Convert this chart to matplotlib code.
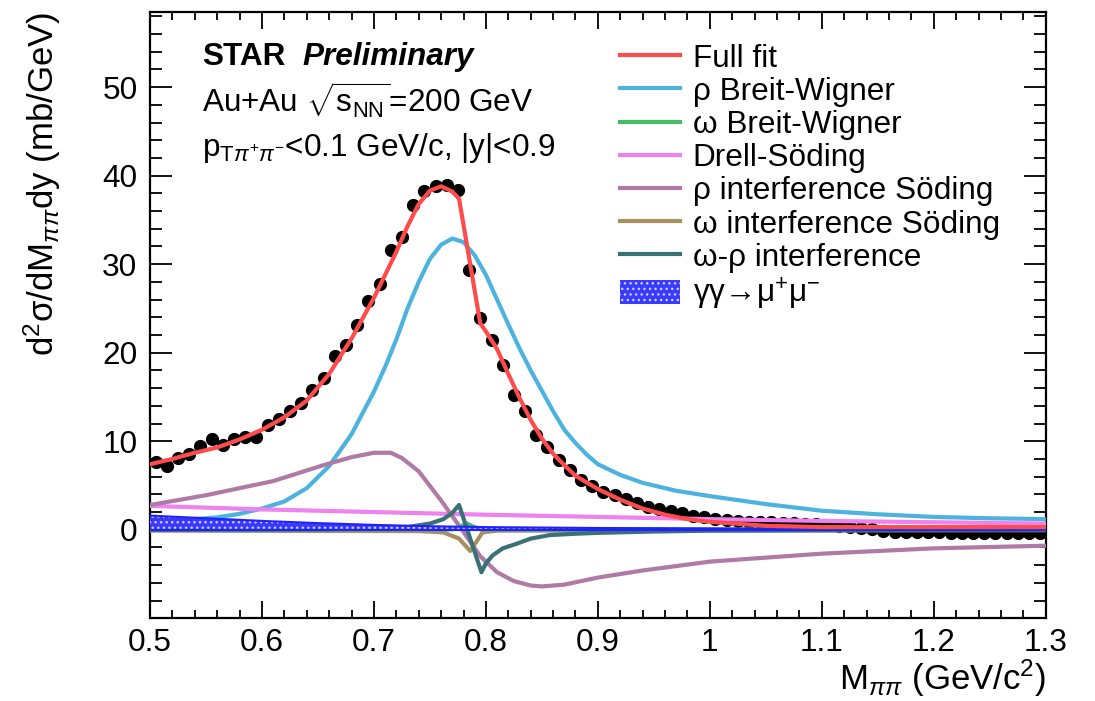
import numpy as np
import matplotlib
matplotlib.use("Agg")
import matplotlib.pyplot as plt
from matplotlib.ticker import MultipleLocator
from matplotlib.lines import Line2D
from matplotlib.patches import Patch

plt.rcParams['font.family'] = ['Liberation Sans', 'DejaVu Sans']
plt.rcParams['mathtext.fontset'] = 'custom'
plt.rcParams['mathtext.rm'] = 'Liberation Sans'
plt.rcParams['mathtext.it'] = 'Liberation Sans:italic'
plt.rcParams['mathtext.bf'] = 'Liberation Sans:bold'
plt.rcParams['hatch.linewidth'] = 1.0

# measured points (bin centres, 10 MeV bins)
m_data = np.round(np.arange(0.505, 1.30, 0.01), 3)
xsec_data = [7.7, 7.2, 8.1, 8.6, 9.5, 10.2, 9.6, 10.2, 10.5, 10.5,
             11.8, 12.5, 13.4, 14.3, 15.8, 17.1, 19.6, 20.9, 23.1, 25.8,
             27.8, 31.6, 33.1, 36.7, 38.3, 38.8, 38.9, 38.4, 29.3, 23.9,
             21.4, 18.6, 15.2, 13.4, 10.7, 9.4, 7.9, 6.8, 5.6, 4.9,
             4.3, 3.9, 3.5, 3.0, 2.6, 2.4, 2.1, 1.9, 1.6, 1.4,
             1.2, 1.1, 1.0, 0.9, 0.85, 0.85, 0.8, 0.8, 0.7, 0.6,
             0.5, 0.4, 0.3, 0.2, 0.1, -0.1, -0.2, -0.25, -0.3, -0.3,
             -0.3, -0.35, -0.35, -0.35, -0.35, -0.35, -0.35, -0.35, -0.35, -0.35]

# full fit
m_full = [0.50, 0.52, 0.54, 0.56, 0.58, 0.60, 0.62, 0.64, 0.66, 0.68, 0.70, 0.72, 0.73,
          0.74, 0.75, 0.76, 0.77, 0.776, 0.795, 0.80, 0.81, 0.82, 0.83, 0.84, 0.85, 0.86,
          0.87, 0.88, 0.90, 0.92, 0.94, 0.96, 0.98, 1.00, 1.05, 1.10, 1.15, 1.20, 1.30]
full_fit = [7.4, 8.0, 8.7, 9.3, 10.2, 11.3, 12.7, 14.6, 17.6, 21.6, 26.2, 31.4, 34.3,
            36.8, 38.3, 38.8, 38.2, 37.4, 23.3, 22.4, 20.4, 17.6, 14.9, 12.4, 10.3, 8.6,
            7.3, 6.1, 4.6, 3.4, 2.4, 1.7, 1.2, 0.9, 0.45, 0.3, 0.3, 0.3, 0.3]

# rho Breit-Wigner
m_rho = [0.50, 0.52, 0.54, 0.56, 0.58, 0.60, 0.62, 0.64, 0.66, 0.68, 0.70, 0.71, 0.72,
         0.73, 0.74, 0.75, 0.76, 0.77, 0.78, 0.79, 0.80, 0.81, 0.82, 0.83, 0.84, 0.85,
         0.86, 0.87, 0.88, 0.89, 0.90, 0.92, 0.94, 0.97, 1.00, 1.05, 1.10, 1.15, 1.20,
         1.25, 1.30]
rho_bw = [0.9, 1.0, 1.2, 1.4, 1.8, 2.4, 3.2, 4.7, 7.2, 10.8, 15.6, 18.4, 21.5,
          25.0, 28.0, 30.6, 32.2, 32.9, 32.5, 31.0, 28.8, 26.0, 23.2, 20.5, 18.0, 15.7,
          13.4, 11.3, 9.8, 8.5, 7.4, 6.2, 5.3, 4.4, 3.8, 2.9, 2.15, 1.75, 1.45,
          1.3, 1.2]

# omega Breit-Wigner
m_omega = [0.50, 0.77, 0.778, 0.783, 0.788, 0.795, 1.30]
omega_bw = [0.0, 0.05, 0.4, 0.7, 0.4, 0.05, 0.0]

# Drell-Soding
m_ds = [0.50, 0.60, 0.70, 0.80, 0.90, 1.00, 1.10, 1.20, 1.30]
drell_soding = [2.7, 2.3, 2.0, 1.7, 1.45, 1.2, 1.0, 0.85, 0.7]

# rho interference Soding
m_rhoint = [0.50, 0.55, 0.61, 0.655, 0.68, 0.70, 0.715, 0.725, 0.74, 0.76, 0.777,
            0.795, 0.81, 0.825, 0.84, 0.85, 0.87, 0.90, 0.94, 1.00, 1.10, 1.20, 1.30]
rho_int = [2.8, 3.9, 5.5, 7.3, 8.2, 8.7, 8.7, 8.1, 6.6, 3.3, 0.3,
           -3.0, -4.8, -5.8, -6.3, -6.4, -6.2, -5.4, -4.6, -3.6, -2.7, -2.1, -1.8]

# omega interference Soding
m_omint = [0.50, 0.74, 0.762, 0.776, 0.786, 0.797, 0.81, 1.30]
omega_int = [-0.1, -0.15, -0.3, -1.0, -2.4, -0.3, -0.1, -0.05]

# omega-rho interference
m_wr = [0.50, 0.65, 0.70, 0.73, 0.75, 0.762, 0.770, 0.776, 0.796, 0.800, 0.806,
        0.815, 0.827, 0.84, 0.857, 0.88, 0.90, 0.95, 1.00, 1.30]
omega_rho_int = [0.0, 0.05, 0.15, 0.3, 0.7, 1.2, 1.9, 2.8, -4.8, -3.8, -2.9,
                 -2.1, -1.6, -1.0, -0.6, -0.45, -0.35, -0.2, -0.1, 0.0]

# gamma gamma -> mu mu
m_gg = [0.50, 0.55, 0.60, 0.65, 0.70, 0.75, 0.80, 0.90, 1.00, 1.10, 1.20, 1.30]
gg_mumu = [1.6, 1.3, 1.0, 0.75, 0.55, 0.4, 0.3, 0.2, 0.15, 0.1, 0.08, 0.05]

c_full = '#ff4b4b'
c_rho = '#4cb3df'
c_omega = '#44bd64'
c_ds = '#ee82ee'
c_rhoint = '#b07aa6'
c_omint = '#a98e60'
c_wr = '#3a7177'
c_gg = '#2020ff'
c_gg_fill = '#3a3aff'

fs = 22.7

fig = plt.figure(figsize=(10.95, 7.01), dpi=100)
ax = fig.add_axes([0.137, 0.118, 0.818, 0.865])

lw = 3.0
ax.plot(m_data, xsec_data, 'o', color='black', markersize=8.5, zorder=2)
ax.plot(m_rho, rho_bw, color=c_rho, lw=lw, zorder=3)
ax.plot(m_ds, drell_soding, color=c_ds, lw=lw, zorder=3)
ax.plot(m_rhoint, rho_int, color=c_rhoint, lw=lw, zorder=3)
ax.plot(m_omint, omega_int, color=c_omint, lw=lw, zorder=3)
ax.plot(m_omega, omega_bw, color=c_omega, lw=lw, zorder=3)
ax.plot(m_wr, omega_rho_int, color=c_wr, lw=lw, zorder=3)
ax.fill_between(m_gg, 0, gg_mumu, facecolor=c_gg_fill, edgecolor='#d0d0ff',
                hatch='...', lw=0, zorder=4)
ax.plot(m_gg, gg_mumu, color=c_gg, lw=1.5, zorder=4)
ax.plot(m_gg, np.zeros(len(m_gg)), color=c_gg, lw=1.5, zorder=4)
ax.plot(m_full, full_fit, color=c_full, lw=lw, zorder=5)

ax.set_xlim(0.5, 1.3)
ax.set_ylim(-10, 58.5)
ax.set_xticks([0.5, 0.6, 0.7, 0.8, 0.9, 1.0, 1.1, 1.2, 1.3])
ax.set_xticklabels(['0.5', '0.6', '0.7', '0.8', '0.9', '1', '1.1', '1.2', '1.3'])
ax.xaxis.set_minor_locator(MultipleLocator(0.02))
ax.set_yticks([0, 10, 20, 30, 40, 50])
ax.yaxis.set_minor_locator(MultipleLocator(2))
ax.tick_params(which='both', direction='in', top=True, right=True,
               labelsize=fs, width=1.3, color='black')
ax.tick_params(axis='x', which='major', length=12, pad=7)
ax.tick_params(axis='x', which='minor', length=6)
ax.tick_params(axis='y', which='major', length=16, pad=9)
ax.tick_params(axis='y', which='minor', length=8.5)
for sp in ax.spines.values():
    sp.set_linewidth(1.6)

ax.set_ylabel(r'd$^{2}$σ/dM$_{ππ}$dy (mb/GeV)', fontsize=25, loc='top')
ax.yaxis.set_label_coords(-0.097, 1.0)
ax.set_xlabel(r'M$_{ππ}$ (GeV/c$^{2}$)', fontsize=25, loc='right')
ax.xaxis.set_label_coords(1.0, -0.064)

ax.text(0.058, 0.925, 'STAR', transform=ax.transAxes, fontsize=fs,
        fontweight='bold', va='center')
ax.text(0.170, 0.925, 'Preliminary', transform=ax.transAxes, fontsize=fs,
        fontweight='bold', fontstyle='italic', va='center')
ax.text(0.058, 0.854, r'Au+Au $\sqrt{\mathregular{s}_{\mathregular{NN}}}$=200 GeV',
        transform=ax.transAxes, fontsize=fs, va='center')
ax.text(0.058, 0.775, r'p$_{\mathregular{T}π^{+}π^{-}}$<0.1 GeV/c, |y|<0.9',
        transform=ax.transAxes, fontsize=fs, va='center')

handles = [Line2D([], [], color=c_full, lw=lw),
           Line2D([], [], color=c_rho, lw=lw),
           Line2D([], [], color=c_omega, lw=lw),
           Line2D([], [], color=c_ds, lw=lw),
           Line2D([], [], color=c_rhoint, lw=lw),
           Line2D([], [], color=c_omint, lw=lw),
           Line2D([], [], color=c_wr, lw=lw),
           Patch(facecolor=c_gg_fill, edgecolor='#d0d0ff', hatch='...', lw=0)]
labels = ['Full fit', 'ρ Breit-Wigner', 'ω Breit-Wigner', 'Drell-Söding',
          'ρ interference Söding', 'ω interference Söding', 'ω-ρ interference',
          r'γγ→μ$^{+}$μ$^{-}$']
leg = ax.legend(handles, labels, loc='upper left', bbox_to_anchor=(0.5246, 0.9475),
                frameon=False, fontsize=fs, handlelength=1.9, handleheight=0.8,
                handletextpad=0.41, labelspacing=0.10, borderpad=0,
                borderaxespad=0)

fig.savefig('out.png', dpi=100)
